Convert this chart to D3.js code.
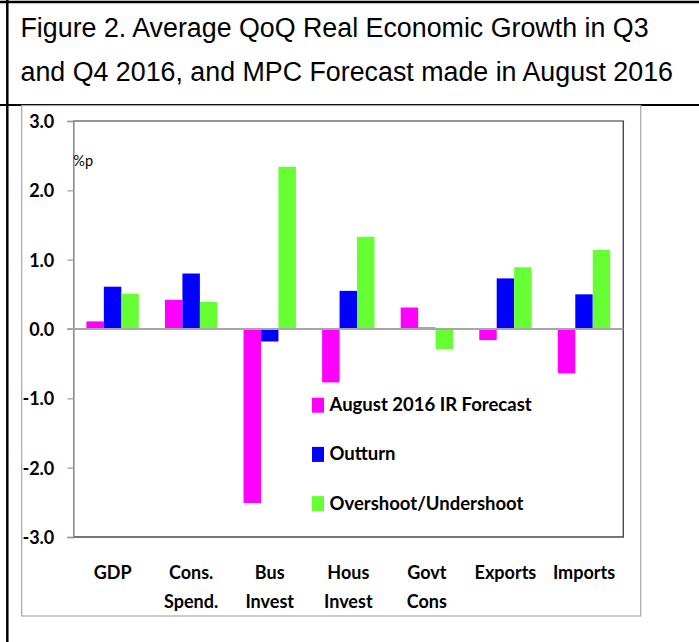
<!DOCTYPE html>
<html>
<head>
<meta charset="utf-8">
<script src="https://cdn.jsdelivr.net/npm/d3@7"></script>
<style>
  html, body { margin: 0; padding: 0; background: #fff; }
  svg { display: block; }
</style>
</head>
<body>
<svg id="chart" width="699" height="642"></svg>
<script>
// ---- data ----
const titleLines = [
  "Figure 2. Average QoQ Real Economic Growth in Q3",
  "and Q4 2016, and MPC Forecast made in August 2016"
];
const categories = ["GDP", "Cons.\nSpend.", "Bus\nInvest", "Hous\nInvest", "Govt\nCons", "Exports", "Imports"];
const seriesNames = ["August 2016 IR Forecast", "Outturn", "Overshoot/Undershoot"];
const forecast  = [0.11, 0.42, -2.51, -0.77, 0.31, -0.16, -0.64];
const outturn   = [0.61, 0.80, -0.18, 0.55, 0.02, 0.73, 0.50];
const overshoot = [0.51, 0.39, 2.34, 1.33, -0.29, 0.89, 1.14];
const yTicks = [-3, -2, -1, 0, 1, 2, 3];
const unitLabel = "%p";

const seriesValues = [forecast, outturn, overshoot];
const colors = ["#ff00ff", "#0000ff", "#66ff33"];

const svg = d3.select("#chart");
const boldFont = "Lato, 'Open Sans', sans-serif";

// ---- table / frame lines ----
svg.append("line").attr("x1", 0).attr("x2", 699).attr("y1", 2).attr("y2", 2)
  .attr("stroke", "#000").attr("stroke-width", 2.5);
svg.append("line").attr("x1", 7.3).attr("x2", 7.3).attr("y1", 0).attr("y2", 642)
  .attr("stroke", "#000").attr("stroke-width", 2.5);
svg.append("line").attr("x1", 0).attr("x2", 699).attr("y1", 105).attr("y2", 105)
  .attr("stroke", "#000").attr("stroke-width", 2.2);

// title
svg.append("g").selectAll("text").data(titleLines).join("text")
  .attr("x", 20.5)
  .attr("y", (d, i) => 37 + i * 44)
  .attr("font-family", "'Liberation Sans', Arial, sans-serif")
  .attr("font-size", 26.8)
  .attr("fill", "#000")
  .text(d => d);

// chart outer box
svg.append("rect").attr("x", 21.7).attr("y", 105.5).attr("width", 619).attr("height", 510.5)
  .attr("fill", "none").attr("stroke", "#a8a8a8").attr("stroke-width", 1.2);

// ---- scales ----
const plotL = 73.3, plotR = 623.3, plotT = 121, plotB = 537;
const x = d3.scaleBand().domain(d3.range(categories.length)).range([plotL, plotR]).padding(0);
const xs = d3.scaleBand().domain(d3.range(seriesNames.length))
  .range([x.bandwidth() / 6, x.bandwidth() * 5 / 6]).padding(0);
const y = d3.scaleLinear().domain([-3, 3]).range([plotB, plotT]);

// plot frame: top, right, bottom
svg.append("line").attr("x1", plotL).attr("x2", plotR + 0.8).attr("y1", plotT).attr("y2", plotT)
  .attr("stroke", "#737373").attr("stroke-width", 1.7);
svg.append("line").attr("x1", plotR).attr("x2", plotR).attr("y1", plotT).attr("y2", plotB)
  .attr("stroke", "#4a4a4a").attr("stroke-width", 1.4);
svg.append("line").attr("x1", plotL).attr("x2", plotR + 0.7).attr("y1", plotB).attr("y2", plotB)
  .attr("stroke", "#4a4a4a").attr("stroke-width", 1.4);

// bars
const barData = [];
seriesValues.forEach((vals, s) => vals.forEach((v, c) => barData.push({ s, c, v })));
svg.append("g").selectAll("rect").data(barData).join("rect")
  .attr("x", d => x(d.c) + xs(d.s))
  .attr("width", xs.bandwidth())
  .attr("y", d => y(Math.max(0, d.v)))
  .attr("height", d => Math.abs(y(d.v) - y(0)))
  .attr("fill", d => colors[d.s]);

// y axis
const yAxis = svg.append("g").attr("transform", `translate(${plotL},0)`)
  .call(d3.axisLeft(y).tickValues(yTicks).tickSize(6).tickPadding(13)
    .tickFormat(d => d.toFixed(1)));
yAxis.select(".domain").attr("stroke", "#858585").attr("stroke-width", 1.5);
yAxis.selectAll(".tick line").attr("stroke", "#999").attr("stroke-width", 1.2);
yAxis.selectAll(".tick text")
  .attr("font-family", boldFont).attr("font-weight", "bold").attr("font-size", 18)
  .attr("fill", "#000").attr("dy", "0.36em");

// zero line
svg.append("line").attr("x1", plotL - 6).attr("x2", plotR).attr("y1", y(0)).attr("y2", y(0))
  .attr("stroke", "#a6a6a6").attr("stroke-width", 2);

// unit label
svg.append("text").attr("x", plotL).attr("y", 166)
  .attr("font-family", boldFont).attr("font-size", 14.5).attr("fill", "#000")
  .text(unitLabel);

// category labels
const catG = svg.append("g").selectAll("text").data(categories).join("text")
  .attr("text-anchor", "middle")
  .attr("font-family", boldFont).attr("font-weight", "bold").attr("font-size", 18)
  .attr("fill", "#000");
catG.selectAll("tspan").data((d, i) => d.split("\n").map(t => ({ t, i }))).join("tspan")
  .attr("x", d => x(d.i) + x.bandwidth() / 2)
  .attr("y", (d, j) => 579 + j * 29)
  .text(d => d.t);

// legend
const leg = svg.append("g").selectAll("g").data(seriesNames).join("g")
  .attr("transform", (d, i) => `translate(312, ${397.7 + i * 49.2})`);
leg.append("rect").attr("width", 12).attr("height", 15).attr("fill", (d, i) => colors[i]);
leg.append("text").attr("x", 17.5).attr("y", 13.5)
  .attr("font-family", boldFont).attr("font-weight", "bold").attr("font-size", 18.5)
  .attr("fill", "#000").text(d => d);
</script>
</body>
</html>
